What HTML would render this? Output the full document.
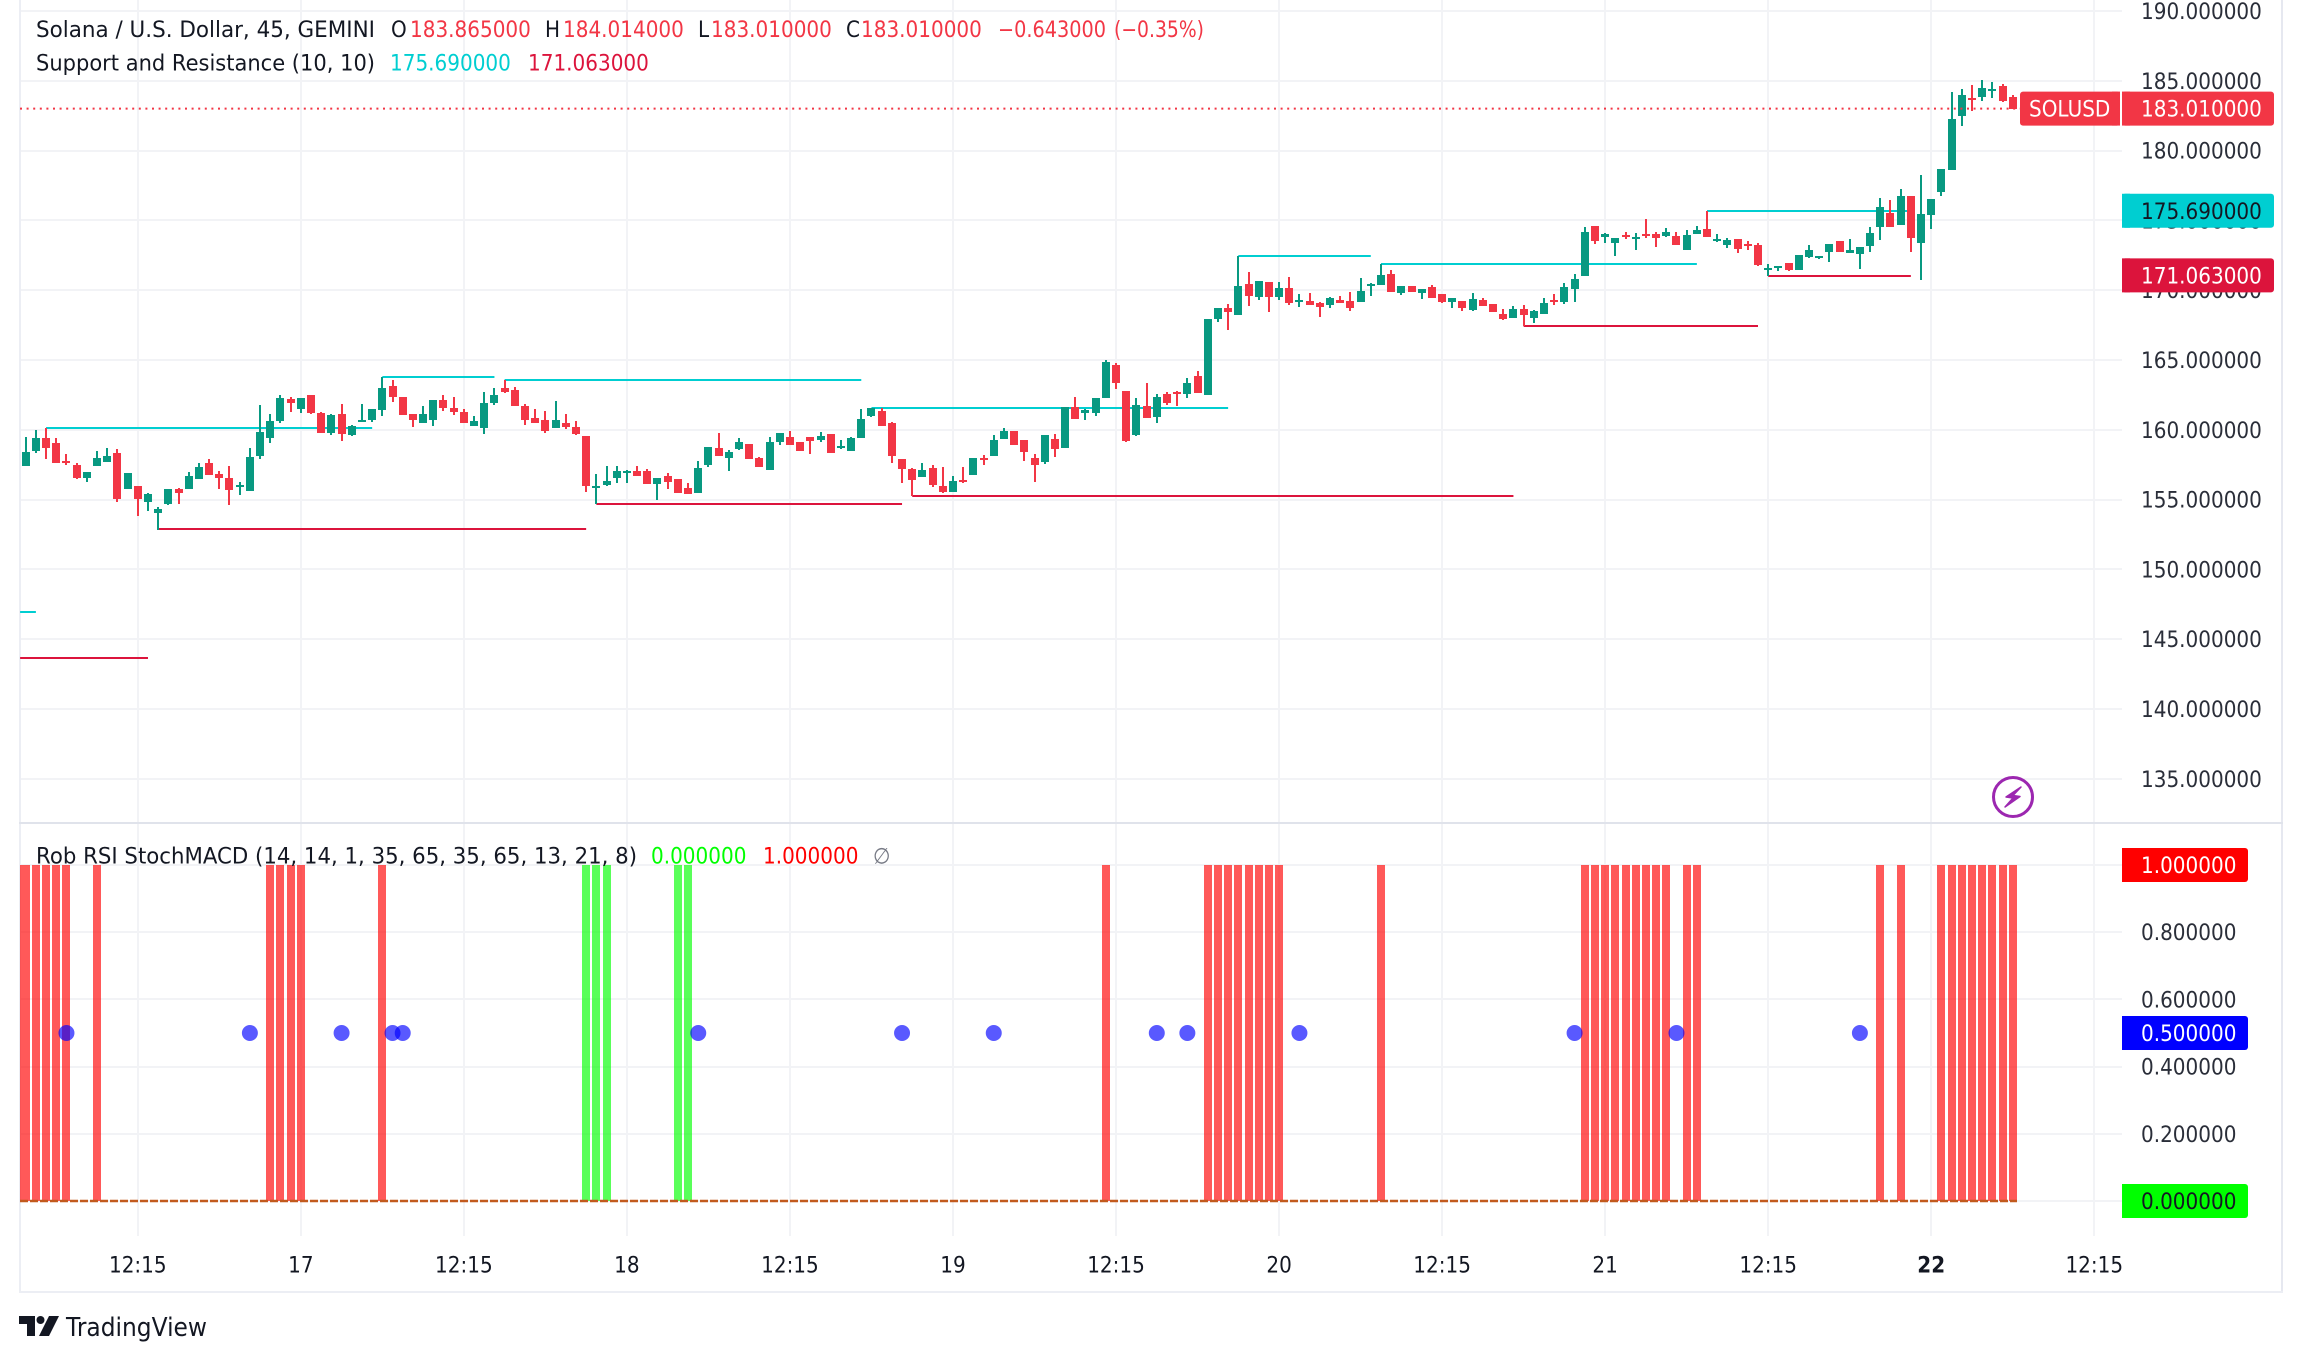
<!DOCTYPE html>
<html lang="en">
<head>
<meta charset="utf-8">
<title>SOLUSD chart</title>
<style>
html,body{margin:0;padding:0;background:#fff;width:2302px;height:1362px;overflow:hidden}
svg{display:block}
text{font-family:"DejaVu Sans","Liberation Sans",sans-serif;font-size:22px;fill:#131722}
</style>
</head>
<body>
<svg id="chart" xmlns="http://www.w3.org/2000/svg" width="2302" height="1362" viewBox="0 0 2302 1362">
  <g id="grid"></g>
  <rect x="19" y="0" width="2" height="1292" fill="#eceef4"/>
  <rect x="2281" y="0" width="2" height="1292" fill="#e6e8f0"/>
  <rect x="19" y="1291" width="2264" height="2" fill="#eceef4"/>
  <rect x="19" y="822" width="2264" height="2" fill="#e0e3eb"/>
  <g id="levels"></g>
  <g id="candles"></g>
  <g id="lastline"></g>
  <g id="signals"></g>
  <g id="axes"></g>
  <g id="tags"></g>

  <g>
    <text x="36" y="37" textLength="339" lengthAdjust="spacingAndGlyphs">Solana / U.S. Dollar, 45, GEMINI</text>
    <text x="391" y="37">O</text>
    <text x="410" y="37" style="fill:#f23645">183.865000</text>
    <text x="545" y="37">H</text>
    <text x="563" y="37" style="fill:#f23645">184.014000</text>
    <text x="698" y="37">L</text>
    <text x="711" y="37" style="fill:#f23645">183.010000</text>
    <text x="846" y="37">C</text>
    <text x="861" y="37" style="fill:#f23645">183.010000</text>
    <text x="998" y="37" style="fill:#f23645" textLength="108" lengthAdjust="spacingAndGlyphs">−0.643000</text>
    <text x="1114" y="37" style="fill:#f23645" textLength="90" lengthAdjust="spacingAndGlyphs">(−0.35%)</text>
    <text x="36" y="70.5" textLength="339" lengthAdjust="spacingAndGlyphs">Support and Resistance (10, 10)</text>
    <text x="390" y="70.5" style="fill:#00ced1">175.690000</text>
    <text x="528" y="70.5" style="fill:#dc143c">171.063000</text>
  </g>
  <g>
    <text x="36" y="863.5" textLength="601" lengthAdjust="spacingAndGlyphs">Rob RSI StochMACD (14, 14, 1, 35, 65, 35, 65, 13, 21, 8)</text>
    <text x="651" y="863.5" style="fill:#00ff00">0.000000</text>
    <text x="763" y="863.5" style="fill:#ff0000">1.000000</text>
    <text x="873" y="863.5" style="fill:#787b86">∅</text>
  </g>

  <g>
    <circle cx="2013" cy="797" r="19.5" fill="#fff" stroke="#9c27b0" stroke-width="3"/>
    <path d="M2021 787 L2006 797 L2013 798 L2005 807 L2020 796.5 L2013 795.5 Z" fill="#9c27b0" stroke="#9c27b0" stroke-width="1.5" stroke-linejoin="round"/>
  </g>

  <g>
    <path d="M19 1316 H35 V1336 H27 V1324 H19 Z" fill="#131722"/>
    <circle cx="40.5" cy="1320" r="4" fill="#131722"/>
    <path d="M49 1316 H59 L49 1336 H39 Z" fill="#131722"/>
    <text x="66" y="1336" style="font-size:25.5px" textLength="141" lengthAdjust="spacingAndGlyphs">TradingView</text>
  </g>
</svg>

<script>
var opens=[157.41,158.48,159.41,159.05,157.76,157.48,156.55,157.41,157.69,158.34,155.76,155.97,154.83,154.04,154.68,155.76,155.76,156.47,157.62,156.83,156.55,155.90,155.62,158.12,159.41,160.63,162.21,161.49,162.49,161.20,159.77,161.13,159.63,160.56,160.70,161.42,163.14,162.35,161.13,160.49,160.70,162.13,161.56,161.27,160.27,160.13,161.92,162.99,162.85,161.70,160.84,160.70,160.13,160.49,160.20,159.56,155.83,156.04,156.55,156.90,157.05,157.05,156.12,156.69,156.47,155.83,155.47,157.48,158.70,157.98,158.62,158.98,157.98,157.12,159.13,159.48,159.13,159.48,159.27,159.70,158.70,158.48,159.41,160.99,161.35,160.49,157.91,157.19,156.62,157.26,155.97,155.54,156.40,156.76,157.98,158.12,159.34,159.91,159.27,157.98,157.69,159.34,158.70,161.63,161.20,161.20,162.28,164.64,162.78,159.63,161.70,160.92,162.56,162.70,162.56,163.85,162.49,167.93,168.72,168.22,170.44,169.51,170.58,169.51,170.15,169.15,169.22,169.08,168.94,169.30,169.22,169.15,170.30,170.37,171.16,169.80,170.30,169.80,170.23,169.73,169.15,169.22,168.58,169.30,169.01,168.29,168.01,168.65,168.01,168.29,169.30,169.15,170.08,171.02,174.60,173.81,173.38,173.95,173.67,174.03,174.03,173.88,173.88,172.88,174.03,174.38,173.52,173.24,173.67,173.31,173.24,171.45,171.59,171.95,171.45,172.38,172.31,172.74,173.52,172.66,172.59,173.17,174.53,175.53,174.67,176.75,173.38,175.39,177.04,178.61,182.48,183.77,183.84,184.27,184.63,183.865];
var highs=[159.48,159.99,160.13,159.41,158.27,157.62,156.98,158.48,158.70,158.62,156.90,155.97,155.47,154.47,155.76,155.83,156.98,157.62,157.91,157.05,157.41,156.26,158.70,161.78,161.13,162.49,162.35,162.28,162.49,161.27,161.13,161.85,160.34,161.85,161.49,163.78,163.57,162.35,161.13,161.70,162.13,162.49,162.35,161.49,160.99,162.71,162.99,163.57,163.07,161.85,161.49,161.35,162.06,161.13,160.63,159.56,156.83,157.41,157.41,157.12,157.41,157.19,156.55,156.90,156.47,156.19,157.76,158.77,159.77,158.55,159.41,158.98,158.05,159.48,159.77,159.91,159.13,159.48,159.84,159.70,159.27,159.48,161.49,161.56,161.56,160.56,157.91,157.26,157.62,157.48,157.33,156.69,157.33,157.98,158.19,159.63,160.13,159.91,159.27,158.27,159.63,159.70,161.63,162.35,161.49,162.28,165.00,164.79,162.78,162.28,163.35,162.56,162.71,162.78,163.71,164.21,167.93,168.72,169.01,172.45,171.30,170.66,170.58,170.58,170.94,169.73,169.80,169.15,169.51,169.58,169.87,170.87,170.51,171.87,171.44,170.30,170.30,170.08,170.37,169.73,169.44,169.22,169.80,169.44,169.01,168.65,168.87,168.94,168.58,169.44,169.73,170.51,171.16,174.53,174.60,174.10,173.74,174.17,174.10,175.10,174.17,174.45,174.17,174.31,174.60,175.67,174.03,173.74,173.67,173.52,173.38,171.88,171.73,171.95,172.52,173.24,172.45,173.31,173.52,173.67,173.09,174.53,176.60,176.46,177.25,176.75,178.25,176.53,178.68,184.20,184.41,184.70,185.06,184.92,184.77,184.014];
var lows=[157.41,158.34,157.91,157.62,157.48,156.47,156.26,157.41,157.69,154.83,155.76,153.82,154.18,152.82,154.61,154.68,155.76,156.47,156.76,155.76,154.61,155.33,155.62,157.91,159.05,160.49,161.27,161.20,161.13,159.77,159.63,159.20,159.56,160.56,160.56,160.99,161.99,161.06,160.20,160.49,160.27,161.35,161.06,160.49,160.27,159.70,161.78,162.64,161.70,160.34,160.49,159.77,160.13,160.06,159.63,155.54,154.68,155.97,156.19,156.19,156.69,156.12,154.97,155.76,155.47,155.40,155.47,157.33,158.12,157.05,158.55,157.91,157.33,157.12,158.91,158.91,158.48,158.27,159.13,158.34,158.62,158.48,159.41,160.92,160.27,157.62,156.19,155.26,156.62,155.90,155.47,155.54,156.19,156.76,157.48,158.12,159.34,158.91,157.76,156.26,157.55,158.05,158.70,160.77,160.70,160.99,162.28,162.92,159.13,159.56,160.84,160.49,161.78,161.70,162.27,162.63,162.49,167.72,167.15,168.22,168.87,169.30,168.44,169.30,168.94,168.79,168.94,168.08,168.72,169.08,168.51,169.15,169.58,170.37,169.87,169.65,169.87,169.37,169.44,169.08,168.72,168.51,168.51,168.87,168.44,167.86,168.01,167.43,167.65,168.29,168.94,169.01,169.15,171.02,173.31,173.38,172.45,173.67,172.88,173.74,173.09,173.81,173.24,172.88,174.03,173.81,173.45,173.02,172.66,172.88,171.73,171.02,171.37,171.37,171.45,172.31,172.23,172.02,172.74,172.66,171.52,172.74,173.60,174.53,174.67,172.74,170.73,174.38,176.75,178.61,181.76,182.84,183.55,183.77,183.48,183.01];
var closes=[158.41,159.41,158.70,157.62,157.62,156.55,156.98,157.98,158.12,155.04,156.90,155.04,155.40,154.33,155.76,155.47,156.69,157.33,156.76,156.55,155.69,156.04,158.05,159.84,160.63,162.28,161.92,162.28,161.20,159.77,161.06,159.70,160.27,160.70,161.49,162.99,162.35,161.06,160.70,161.13,162.13,161.56,161.27,160.49,160.63,161.92,162.49,162.71,161.70,160.70,160.49,159.91,160.70,160.20,159.70,155.97,155.97,156.33,157.05,157.05,156.69,156.12,156.55,156.26,155.47,155.40,157.26,158.77,158.12,158.41,159.13,157.91,157.33,159.13,159.77,158.91,158.48,159.20,159.56,158.34,158.84,159.41,160.77,161.56,160.27,158.12,157.19,156.40,157.12,156.04,155.54,156.33,156.26,157.98,157.84,159.27,159.91,158.91,158.41,157.48,159.63,158.62,161.63,160.77,161.42,162.28,164.86,163.35,159.20,161.78,160.84,162.35,161.92,162.56,163.35,162.63,167.93,168.72,168.44,170.30,169.58,170.66,169.51,170.15,169.08,169.30,168.94,168.79,169.44,169.08,168.72,169.94,170.44,171.09,169.87,170.30,169.87,170.08,169.44,169.15,169.44,168.72,169.37,168.87,168.44,167.93,168.65,168.22,168.51,169.08,169.15,170.23,170.80,174.17,173.52,174.03,173.74,173.81,173.81,173.88,173.74,174.17,173.24,173.95,174.31,173.81,173.67,173.60,172.95,173.17,171.80,171.59,171.73,171.45,172.52,172.88,172.45,173.31,172.74,172.88,173.09,174.10,175.96,174.53,176.75,173.74,175.46,176.53,178.68,182.26,183.98,183.63,184.49,184.41,183.55,183.01];

var priceTicks=[190,185,180,175,170,165,160,155,150,145,140,135];
var oscTicks=[1,0.8,0.6,0.4,0.2,0];
var timeBars=[11,27,43,59,75,91,107,123,139,155,171,187,203];
var timeLabels=["12:15","17","12:15","18","12:15","19","12:15","20","12:15","21","12:15","22","12:15"];

var resistanceLevels=[146.95,160.13,163.78,163.57,161.56,172.45,171.88,175.67];
var resistanceStart=[-0.55,2,35,47,83,119,133,165];
var resistanceEnd=[1,34,46,82,118,132,164,185];
var supportLevels=[143.65,152.87,154.70,155.26,167.45,171.04];
var supportStart=[-0.55,13,56,87,147,171];
var supportEnd=[12,55,86,146,170,185];

var redBars=[0,1,2,3,4,7,24,25,26,27,35,106,116,117,118,119,120,121,122,123,133,153,154,155,156,157,158,159,160,161,163,164,182,184,188,189,190,191,192,193,194,195];
var greenBars=[55,56,57,64,65];
var neutralDots=[4,22,31,36,37,66,86,95,111,114,125,152,162,180];
var lastPrice=183.01;
var resistanceValue=175.69;
var supportValue=171.063;

var paneLeft=20;
function xOf(i){return 25.7+i*10.19;}
function yPrice(p){return 11+(190-p)*13.96;}
function yOsc(v){return 1201-336*v;}

var NS="http://www.w3.org/2000/svg";
function mk(tag,attrs,parent){
  var e=document.createElementNS(NS,tag);
  for(var k in attrs){e.setAttribute(k,attrs[k]);}
  parent.appendChild(e);
  return e;
}
var GRID="#f2f3f6";
var gridG=document.getElementById("grid");
var axesG=document.getElementById("axes");

timeBars.forEach(function(b,n){
  var x=xOf(b);
  var l=mk("rect",{x:Math.round(x)-1,y:0,width:2,height:1236,fill:GRID},gridG);
  
  
  var t=mk("text",{x:x,y:1272.5,"text-anchor":"middle"},axesG);
  
  
  t.textContent=timeLabels[n];
  if(timeLabels[n]==="22"){t.style.fontWeight="bold";}
});
priceTicks.forEach(function(p){
  var y=yPrice(p);
  var l=mk("rect",{x:20,y:Math.round(y)-1,width:2102,height:2,fill:GRID},gridG);
  
  
  var t=mk("text",{x:2141,y:y+8},axesG);
  
  
  t.textContent=p.toFixed(6);
  t.style.fill="#2a2e39";
});
oscTicks.forEach(function(v){
  var y=yOsc(v);
  var l=mk("rect",{x:20,y:Math.round(y)-1,width:2102,height:2,fill:GRID},gridG);
  
  
  var t=mk("text",{x:2141,y:y+8},axesG);
  
  
  t.textContent=v.toFixed(6);
  t.style.fill="#2a2e39";
});

var levelsG=document.getElementById("levels");
resistanceLevels.forEach(function(p,n){
  var l=mk("rect",{x:xOf(resistanceStart[n]),y:Math.round(yPrice(p))-1,width:xOf(resistanceEnd[n])-xOf(resistanceStart[n]),height:2,fill:"#00ced1"},levelsG);
  
  
});
supportLevels.forEach(function(p,n){
  var l=mk("rect",{x:xOf(supportStart[n]),y:Math.round(yPrice(p))-1,width:xOf(supportEnd[n])-xOf(supportStart[n]),height:2,fill:"#dc143c"},levelsG);
  
  
});

var candlesG=document.getElementById("candles");
opens.forEach(function(o,i){
  var c=closes[i],h=highs[i],lo=lows[i];
  var col=c>=o?"#089981":"#f23645";
  var x=Math.round(xOf(i));
  var top=Math.round(yPrice(Math.max(o,c)));
  var bot=Math.round(yPrice(Math.min(o,c)));
  var wt=Math.round(yPrice(h));
  var wb=Math.round(yPrice(lo));
  var w=mk("rect",{x:x-1,y:wt,width:2,height:Math.max(wb-wt,1),fill:col},candlesG);
  
  
  var b=mk("rect",{x:x-4,y:top,width:8,height:Math.max(bot-top,2),fill:col},candlesG);
  
  
});

var lastG=document.getElementById("lastline");
var dotted=mk("line",{x1:20,x2:2021,y1:yPrice(lastPrice),y2:yPrice(lastPrice),stroke:"#f23645","stroke-width":2,"stroke-dasharray":"2 4.6"},lastG);



var sigG=document.getElementById("signals");
function drawBars(list,col,name){
  list.forEach(function(b){
    var left=Math.round(xOf(b))-4;
    var right=left+8;
    if(left-paneLeft<4){left=paneLeft;}
    var r=mk("rect",{x:left,y:yOsc(1),width:right-left,height:yOsc(0)-yOsc(1),fill:col,"fill-opacity":0.65},sigG);
    
    
  });
}
drawBars(redBars,"#ff0000","sell-signal-bar");
drawBars(greenBars,"#00ff00","buy-signal-bar");
var zero=mk("line",{x1:20,x2:2017,y1:yOsc(0),y2:yOsc(0),stroke:"#c25a1e","stroke-width":2.5,"stroke-dasharray":"8 2"},sigG);


neutralDots.forEach(function(b){
  var d=mk("circle",{cx:xOf(b),cy:yOsc(0.5),r:8,fill:"#0000ff","fill-opacity":0.65},sigG);
  
  
});

var tagsG=document.getElementById("tags");
function tag(y,w,bg,fg,txt,name){
  var r=mk("rect",{x:2122,y:y-17,width:w,height:34,rx:3,fill:bg},tagsG);
  
  
  var sq=mk("rect",{x:2122,y:y-17,width:8,height:34,fill:bg},tagsG);
  
  
  var t=mk("text",{x:2141,y:y+8},tagsG);
  
  
  t.style.fill=fg;
  t.textContent=txt;
}
tag(yPrice(lastPrice),152,"#f23645","#fff",lastPrice.toFixed(6),"last-price");
tag(yPrice(resistanceValue),152,"#00ced1","#131722",resistanceValue.toFixed(6),"resistance");
tag(yPrice(supportValue),152,"#dc143c","#fff",supportValue.toFixed(6),"support");
tag(yOsc(1),126,"#ff0000","#fff",(1).toFixed(6),"oscillator-red");
tag(yOsc(0.5),126,"#0000ff","#fff",(0.5).toFixed(6),"oscillator-blue");
tag(yOsc(0),126,"#00ff00","#131722",(0).toFixed(6),"oscillator-green");

var sym=mk("rect",{x:2020,y:yPrice(lastPrice)-17,width:100,height:34,rx:3,fill:"#f23645"},tagsG);


var symEdge=mk("rect",{x:2112,y:yPrice(lastPrice)-17,width:8,height:34,fill:"#f23645"},tagsG);


var symT=mk("text",{x:2029,y:yPrice(lastPrice)+8},tagsG);


symT.style.fill="#fff";
symT.textContent="SOLUSD";

document.querySelectorAll("#chart text").forEach(function(t){
  if(!t.hasAttribute("textLength")){
    var natural=t.getComputedTextLength();
    t.setAttribute("textLength",(natural*20/22).toFixed(2));
    t.setAttribute("lengthAdjust","spacingAndGlyphs");
  }
});
</script>
</body>
</html>
